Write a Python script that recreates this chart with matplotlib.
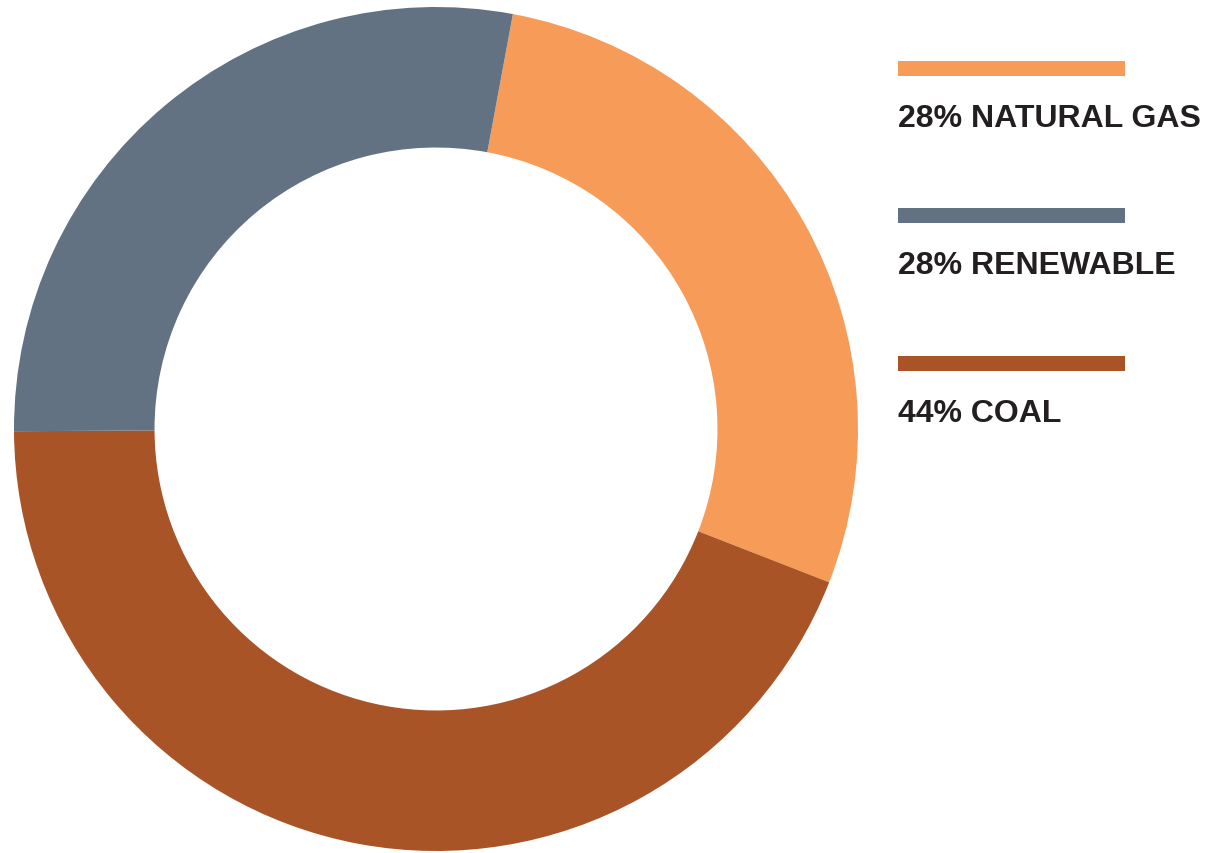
import matplotlib.pyplot as plt
from matplotlib.patches import Rectangle

labels = ["NATURAL GAS", "COAL", "RENEWABLE"]
shares = [28, 44, 28]
colors = ["#F79C58", "#A85427", "#627282"]

legend_order = ["NATURAL GAS", "RENEWABLE", "COAL"]

W, H = 1224, 854
fig = plt.figure(figsize=(W / 100, H / 100), dpi=100)

# donut: center (436, 430), outer radius 422 px
ax = fig.add_axes([14 / W, (H - 852) / H, 844 / W, 844 / H])
ax.pie(
    shares,
    colors=colors,
    startangle=79.5,
    counterclock=False,
    radius=1,
    wedgeprops=dict(width=0.333, linewidth=0),
)
ax.set_xlim(-1, 1)
ax.set_ylim(-1, 1)
ax.set_aspect("equal")
ax.axis("off")

# legend drawn by hand: bar then label below
bar_tops = [62, 209, 357]
for i, name in enumerate(legend_order):
    idx = labels.index(name)
    top = bar_tops[i]
    fig.patches.append(
        Rectangle((898 / W, 1 - (top + 15) / H), 227 / W, 15 / H,
                  transform=fig.transFigure, color=colors[idx], linewidth=0)
    )
    fig.text(
        898 / W, 1 - (top + 65) / H,
        f"{shares[idx]}% {name}",
        fontsize=23, fontweight="bold", family="Liberation Sans",
        color="#231F20", ha="left", va="baseline",
    )

fig.savefig("out.png", dpi=100)
